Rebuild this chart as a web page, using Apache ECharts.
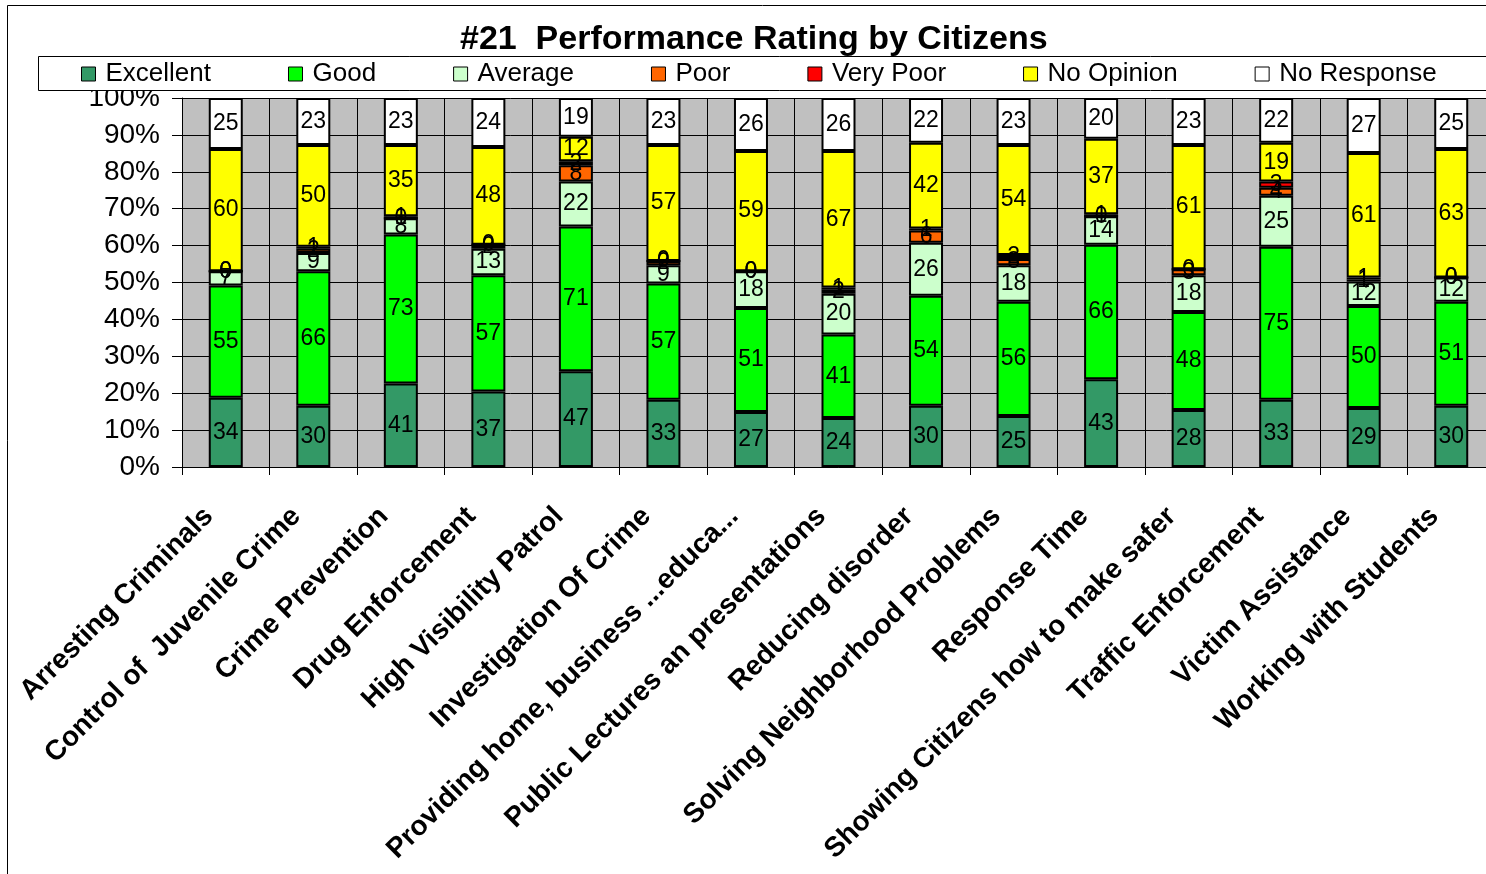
<!DOCTYPE html>
<html>
<head>
<meta charset="utf-8">
<script src="https://cdn.jsdelivr.net/npm/echarts@6/dist/echarts.min.js"></script>
<style>
  html, body { margin: 0; padding: 0; background: #fff; overflow: hidden; }
  #chart { width: 1520px; height: 874px; }
</style>
</head>
<body>
<div id="chart"></div>
<script>
// categories and counts per rating
const categories = [
  'Arresting Criminals',
  'Control of  Juvenile Crime',
  'Crime Prevention',
  'Drug Enforcement',
  'High Visibility Patrol',
  'Investigation Of Crime',
  'Providing home, business ...educa...',
  'Public Lectures an presentations',
  'Reducing disorder',
  'Solving Neighborhood Problems',
  'Response Time',
  'Showing Citizens how to make safer',
  'Traffic Enforcement',
  'Victim Assistance',
  'Working with Students'
]
const excellent = [34, 30, 41, 37, 47, 33, 27, 24, 30, 25, 43, 28, 33, 29, 30]
const good = [55, 66, 73, 57, 71, 57, 51, 41, 54, 56, 66, 48, 75, 50, 51]
const average = [7, 9, 8, 13, 22, 9, 18, 20, 26, 18, 14, 18, 25, 12, 12]
const poor = [0, 2, 0, 2, 8, 2, 0, 2, 6, 3, 0, 3, 4, 1, 0]
const veryPoor = [0, 1, 1, 0, 2, 0, 0, 1, 1, 2, 1, 0, 3, 1, 0]
const noOpinion = [60, 50, 35, 48, 12, 57, 59, 67, 42, 54, 37, 61, 19, 61, 63]
const noResponse = [25, 23, 23, 24, 19, 23, 26, 26, 22, 23, 20, 23, 22, 27, 25]

const yTicks = [0, 10, 20, 30, 40, 50, 60, 70, 80, 90, 100]

const groups = [
  { name: 'Excellent', data: excellent, color: '#339966' },
  { name: 'Good', data: good, color: '#00FF00' },
  { name: 'Average', data: average, color: '#CCFFCC' },
  { name: 'Poor', data: poor, color: '#FF6600' },
  { name: 'Very Poor', data: veryPoor, color: '#FF0000' },
  { name: 'No Opinion', data: noOpinion, color: '#FFFF00' },
  { name: 'No Response', data: noResponse, color: '#FFFFFF' }
]

// totals per category for the 100% stack
const totals = categories.map((c, i) => groups.reduce((s, g) => s + g.data[i], 0))

const font = "'Liberation Sans', Arial, sans-serif"

const chart = echarts.init(document.getElementById('chart'))

const series = groups.map(g => ({
  name: g.name,
  type: 'bar',
  stack: 'all',
  barWidth: 34,
  data: g.data.map((v, i) => ({ value: v / totals[i] * 100, raw: v })),
  itemStyle: { color: g.color, borderColor: '#000', borderWidth: 2 },
  label: {
    show: true,
    position: 'inside',
    color: '#000',
    fontFamily: font,
    fontSize: 23,
    formatter: p => p.data.raw
  }
}))

chart.setOption({
  animation: false,
  title: {
    text: '#21  Performance Rating by Citizens',
    left: 455,
    top: 18,
    textStyle: { fontFamily: font, fontSize: 34, fontWeight: 'bold', color: '#000' }
  },
  legend: {
    data: groups.map(g => g.name),
    left: 81,
    top: 61,
    padding: 0,
    z: 20,
    itemWidth: 14,
    itemHeight: 14,
    itemGap: 77,
    icon: 'rect',
    itemStyle: { borderColor: '#000', borderWidth: 1 },
    textStyle: { fontFamily: font, fontSize: 26, color: '#000', padding: [0, 0, 0, 5] }
  },
  graphic: [
    {
      type: 'rect',
      z: -10,
      shape: { x: 7.5, y: 5.5, width: 1510, height: 900 },
      style: { fill: 'none', stroke: '#000', lineWidth: 1 }
    },
    {
      type: 'rect',
      z: 15,
      shape: { x: 38.5, y: 56.5, width: 1510, height: 34 },
      style: { fill: '#fff', stroke: '#000', lineWidth: 1 }
    }
  ],
  grid: {
    left: 182,
    top: 98,
    width: 1313,
    height: 369,
    show: true,
    backgroundColor: '#C0C0C0',
    borderWidth: 0
  },
  xAxis: {
    type: 'category',
    data: categories,
    axisLine: { lineStyle: { color: '#000', width: 1 } },
    axisTick: { show: true, length: 8, lineStyle: { color: '#000' } },
    splitLine: { show: true, lineStyle: { color: '#000', width: 1 } },
    axisLabel: {
      interval: 0,
      rotate: 45,
      margin: 28,
      padding: [0, 24, 0, 0],
      color: '#000',
      fontFamily: font,
      fontSize: 28,
      fontWeight: 'bold'
    }
  },
  yAxis: {
    type: 'value',
    min: yTicks[0],
    max: yTicks[yTicks.length - 1],
    interval: 10,
    axisLine: { show: true, lineStyle: { color: '#000', width: 1 } },
    axisTick: { show: true, length: 10, lineStyle: { color: '#000' } },
    splitLine: { show: true, lineStyle: { color: '#000', width: 1 } },
    axisLabel: {
      formatter: '{value}%',
      margin: 22,
      color: '#000',
      fontFamily: font,
      fontSize: 28
    }
  },
  series: series
})
</script>
</body>
</html>
